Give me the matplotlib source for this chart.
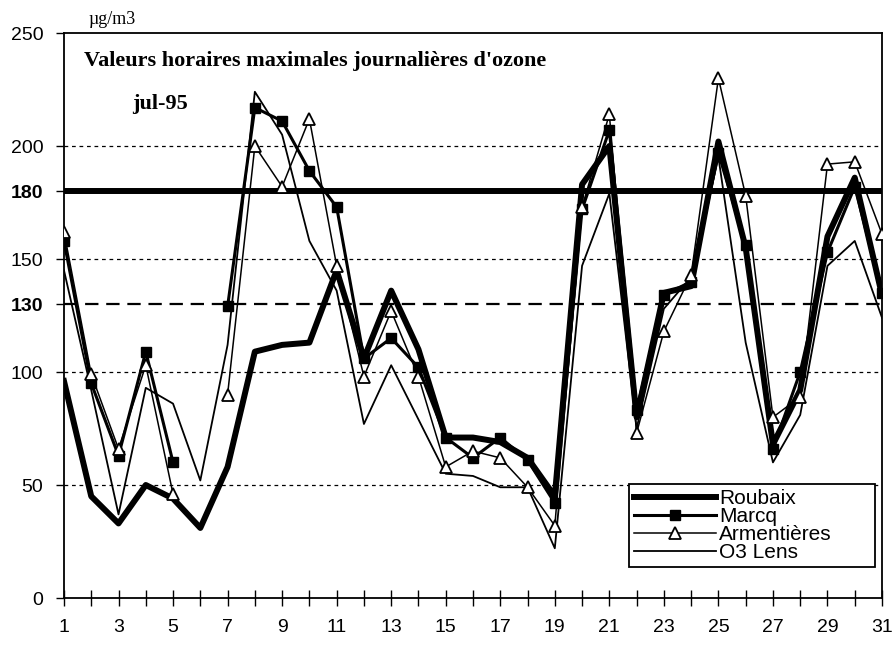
import numpy as np
import matplotlib.pyplot as plt

nan = np.nan

days = list(range(1, 32))
roubaix = [96, 45, 33, 50, 44, 31, 58, 109, 112, 113, 145, 106, 136, 110, 71, 71,
           69, 62, 45, 183, 200, 80, 135, 138, 202, 155, 68, 92, 160, 186, 134]
marcq = [158, 95, 63, 109, 60, nan, 129, 217, 211, 189, 173, 106, 115, 102, 71, 62,
         71, 61, 42, 172, 207, 83, 134, 140, 197, 156, 66, 100, 153, 182, 135]
armentieres = [162, 99, 66, 103, 46, nan, 90, 200, 182, 212, 147, 98, 127, 98, 58, 65,
               62, 49, 32, 173, 214, 73, 118, 143, 230, 178, 80, 89, 192, 193, 161]
lens = [145, 92, 37, 93, 86, 52, 112, 224, 205, 158, 136, 77, 103, 79, 55, 54,
        49, 49, 22, 147, 179, 75, 128, 142, 195, 113, 60, 81, 147, 158, 124]

y_ticks = [0, 50, 100, 130, 150, 180, 200, 250]
grid_levels = [50, 100, 150, 200]
x_labels = list(range(1, 32, 2))

title = "Valeurs horaires maximales journalières d'ozone"
period = "jul-95"
unit = "µg/m3"


def main():
    plt.rcParams['font.family'] = ['Liberation Sans', 'DejaVu Sans']
    fig = plt.figure(figsize=(8.96, 6.46), dpi=100)
    ax = fig.add_axes([0.0714, 0.0743, 0.913, 0.8746])

    # reference lines
    for g in grid_levels:
        ax.axhline(g, color='black', lw=0.9, ls=(0, (3, 3)), zorder=1)
    ax.axhline(130, color='black', lw=1.6, ls=(0, (6, 3.5)), zorder=1)
    ax.axhline(180, color='black', lw=4.3, zorder=2)

    ax.plot(days, roubaix, color='black', lw=4.3, label='Roubaix', zorder=3)
    ax.plot(days, marcq, color='black', lw=2.2, marker='s', ms=7,
            label='Marcq', zorder=4)
    ax.plot(days, armentieres, color='black', lw=1.1, marker='^', ms=8,
            mfc='white', mec='black', mew=1.3, label='Armentières', zorder=5)
    ax.plot(days, lens, color='black', lw=1.3, label='O3 Lens', zorder=4)

    ax.set_xlim(1, 31)
    ax.set_ylim(0, 250)
    ax.set_xticks(days, minor=True)
    ax.set_xticks(x_labels)
    ax.set_xticklabels([str(d) for d in x_labels], fontsize=14)
    ax.tick_params(axis='x', which='both', direction='inout', length=12,
                   width=1, pad=9)
    ax.set_yticks(y_ticks)
    ax.set_yticklabels([str(v) for v in y_ticks], fontsize=14)
    for lab in ax.get_yticklabels():
        if lab.get_text() in ('130', '180'):
            lab.set_fontweight('bold')
    ax.tick_params(axis='y', direction='out', length=6, width=1, pad=9)
    for sp in ax.spines.values():
        sp.set_linewidth(1.3)

    fig.text(84 / 896, 1 - 61 / 646, title, fontfamily='Liberation Serif',
             fontweight='bold', fontsize=16, va='center')
    fig.text(132 / 896, 1 - 104 / 646, period, fontfamily='Liberation Serif',
             fontweight='bold', fontsize=16, va='center')
    fig.text(88 / 896, 1 - 19 / 646, unit, fontfamily='Liberation Serif',
             fontsize=13, va='center')

    leg = ax.legend(loc='upper left', bbox_to_anchor=(0.691, 0.0, 0.3, 0.202),
                    mode='expand', borderaxespad=0, fontsize=15,
                    handlelength=3.9, handletextpad=0.15, labelspacing=-0.05,
                    borderpad=0.25, fancybox=False, framealpha=1,
                    edgecolor='black')
    leg.get_frame().set_linewidth(1.3)

    fig.savefig('out.png', dpi=100)


if __name__ == '__main__':
    main()
